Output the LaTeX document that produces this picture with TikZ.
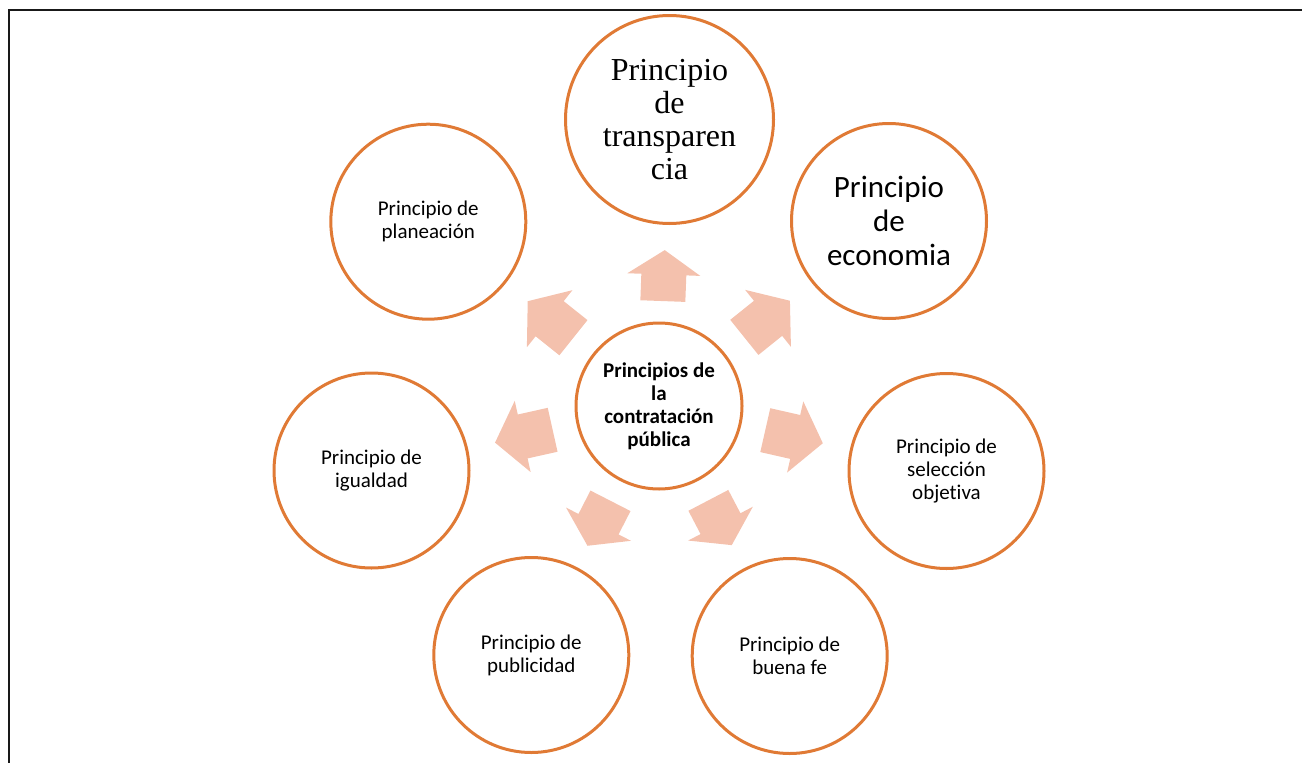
\documentclass[tikz,border=0pt]{standalone}
\usepackage{fontspec}
\setmainfont{Carlito}[Ligatures=NoCommon]
\newfontfamily\timesfont{Liberation Serif}[Ligatures=NoCommon]
\usetikzlibrary{calc}
\definecolor{ringc}{HTML}{E07A35}
\definecolor{arrowc}{HTML}{F4C1AD}
\tikzset{
  ring/.style={circle, draw=ringc, line width=3pt, fill=white, inner sep=0pt,
    align=center, text=black, font=\fontsize{21}{23}\selectfont, minimum size=195pt},
  blockarrow/.style={fill=arrowc, draw=none},
  frameline/.style={line width=2pt, draw=black!90}
}
\newcommand\radarrow[3]{%
  \begin{scope}[shift={(c.center)}, rotate=#1]
    \pgfmathsetmacro\hb{#3-0.48*(#3-#2)}
    \fill[blockarrow] (#2,-22.5) -- (\hb,-22.5) -- (\hb,-36.5) -- (#3,0)
      -- (\hb,36.5) -- (\hb,22.5) -- (#2,22.5) -- cycle;
  \end{scope}}
\begin{document}
\begin{tikzpicture}[x=1pt,y=-1pt]
\useasboundingbox (0,0) rectangle (1302,763);
\draw[frameline] (8.5,790) -- (8.5,9.5) -- (1330,9.5);

\node[ring, minimum size=166pt, font=\bfseries\fontsize{21}{23}\selectfont] (c) at (659,406)
  {Principios de\\la\\contratación\\pública};

\node[ring, minimum size=208pt, font=\timesfont\fontsize{32}{33}\selectfont] (trans) at (669.5,119.5)
  {Principio\\de\\transparen\\cia};
\node[ring, font=\fontsize{31}{34}\selectfont] (econ) at (889,221)
  {Principio\\de\\economia};
\node[ring] (selec) at (946.5,471) {Principio de\\selección\\objetiva};
\node[ring] (buena) at (789.7,656) {Principio de\\buena fe};
\node[ring] (publi) at (531.3,655) {Principio de\\publicidad};
\node[ring] (igual) at (371.5,470.5) {Principio de\\igualdad};
\node[ring] (plane) at (428.3,221.7) {Principio de\\planeación};

\radarrow{87.9}{105}{156}
\radarrow{38.8}{109.5}{168}
\radarrow{-12.8}{109}{168}
\radarrow{-62.4}{106.5}{157}
\radarrow{-117.1}{106.5}{157}
\radarrow{192.6}{109}{168}
\radarrow{141.4}{109.5}{168}
\end{tikzpicture}
\end{document}
